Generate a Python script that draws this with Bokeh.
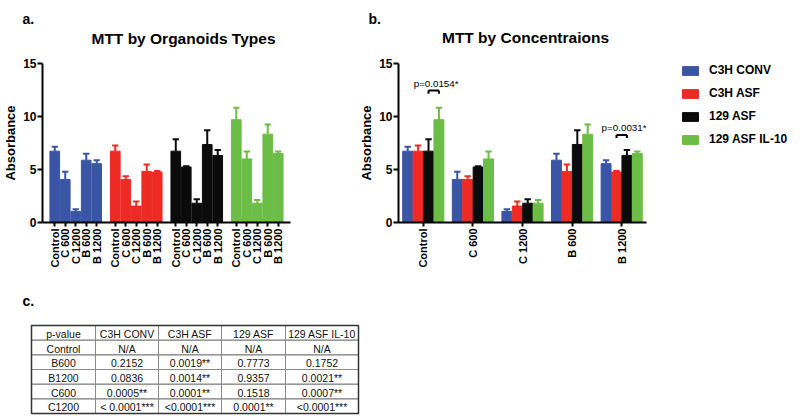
import math
from bokeh.plotting import figure
from bokeh.models import (FactorRange, Range1d, FixedTicker, ColumnDataSource,
                          Legend, LegendItem)
from bokeh.transform import dodge
from bokeh.layouts import row, column
from bokeh.core.properties import value
from bokeh.embed import file_html
from bokeh.resources import INLINE

# ---------------- data ----------------
conditions = ["Control", "C 600", "C 1200", "B 600", "B 1200"]
strains = ["C3H CONV", "C3H ASF", "129 ASF", "129 ASF IL-10"]

c3h_conv_mean = [6.73, 4.06, 1.05, 5.88, 5.55]
c3h_conv_sem = [0.42, 0.73, 0.20, 0.60, 0.33]
c3h_asf_mean = [6.73, 4.06, 1.55, 4.82, 4.76]
c3h_asf_sem = [0.54, 0.30, 0.42, 0.66, 0.09]
asf129_mean = [6.73, 5.24, 1.82, 7.36, 6.33]
asf129_sem = [1.12, 0.06, 0.38, 1.34, 0.52]
il10_mean = [9.70, 6.00, 1.82, 8.33, 6.50]
il10_sem = [1.12, 0.70, 0.30, 0.91, 0.20]

sig_cond = ["Control", "B 1200"]
sig_from = ["129 ASF", "C3H ASF"]
sig_to = ["129 ASF IL-10", "129 ASF"]
sig_y = [12.45, 8.26]
sig_text = ["p=0.0154*", "p=0.0031*"]

panel_letters = ["a.", "b.", "c."]
panel_titles = ["MTT by Organoids Types", "MTT by Concentraions"]

table_header = ["p-value", "C3H CONV", "C3H ASF", "129 ASF", "129 ASF IL-10"]
table_rows = ["Control", "B600", "B1200", "C600", "C1200"]
pv_c3h_conv = ["N/A", "0.2152", "0.0836", "0.0005**", "< 0.0001***"]
pv_c3h_asf = ["N/A", "0.0019**", "0.0014**", "0.0001**", "<0.0001***"]
pv_129_asf = ["N/A", "0.7773", "0.9357", "0.1518", "0.0001**"]
pv_129_il10 = ["N/A", "0.1752", "0.0021**", "0.0007**", "<0.0001***"]

# ---------------- style ----------------
FONT = "Liberation Sans"
colors = ["#3A55A5", "#EE2A24", "#0B0B0B", "#6BBD45"]
means = [c3h_conv_mean, c3h_asf_mean, asf129_mean, il10_mean]
sems = [c3h_conv_sem, c3h_asf_sem, asf129_sem, il10_sem]


def blank(p):
    p.xgrid.visible = False
    p.ygrid.visible = False
    p.outline_line_color = None


def style_axes(p):
    blank(p)
    ya = p.yaxis[0]
    ya.ticker = FixedTicker(ticks=[0, 5, 10, 15])
    ya.axis_label = "Absorbance"
    ya.axis_label_text_font = FONT
    ya.axis_label_text_font_style = "bold"
    ya.axis_label_text_font_size = "13px"
    ya.axis_label_text_color = "black"
    ya.axis_label_standoff = 2
    ya.major_label_text_font = FONT
    ya.major_label_text_font_style = "bold"
    ya.major_label_text_font_size = "12px"
    ya.major_label_text_color = "black"
    ya.major_label_standoff = 1
    ya.axis_line_width = 2
    ya.major_tick_line_width = 2
    ya.major_tick_out = 5
    ya.major_tick_in = 0
    ya.minor_tick_out = 0
    ya.minor_tick_in = 0
    xa = p.xaxis[0]
    xa.axis_line_width = 2
    xa.major_tick_line_width = 2
    xa.major_tick_out = 4
    xa.major_tick_in = 0
    xa.major_label_orientation = math.pi / 2
    xa.major_label_text_font = FONT
    xa.major_label_text_font_style = "bold"
    xa.major_label_text_font_size = "11px"
    xa.major_label_text_color = "black"
    xa.major_label_standoff = 2


# ---------------- header strip (panel letters + titles) ----------------
ph = figure(width=798, height=50, x_range=Range1d(0, 798), y_range=Range1d(50, 0),
            output_backend="svg", toolbar_location=None, min_border=0,
            x_axis_location=None, y_axis_location=None)
blank(ph)
hdr = ColumnDataSource(dict(x=[22, 368], y=[18, 18], t=panel_letters[:2]))
ph.text(x="x", y="y", text="t", source=hdr, text_font=value(FONT), text_font_style="bold",
        text_font_size="14px", text_align="left", text_baseline="alphabetic", text_color="black")
ttl = ColumnDataSource(dict(x=[183, 525], y=[38, 37], t=panel_titles))
ph.text(x="x", y="y", text="t", source=ttl, text_font=value(FONT), text_font_style="bold",
        text_font_size="15.5px", text_align="center", text_baseline="alphabetic",
        text_color="black")

# ---------------- panel a ----------------
factors_a = [(s, c) for s in strains for c in conditions]
top_a = [v for m in means for v in m]
upper_a = [v + e for m, se in zip(means, sems) for v, e in zip(m, se)]
color_a = [c for c in colors for _ in conditions]

pa = figure(width=348, height=235,
            x_range=FactorRange(*factors_a, group_padding=0.77, range_padding=0.67,
                                range_padding_units="absolute"),
            y_range=Range1d(0, 15), output_backend="svg", toolbar_location=None,
            min_border_left=42, min_border_right=58, min_border_top=8, min_border_bottom=63)
src_a = ColumnDataSource(dict(x=factors_a, top=top_a, upper=upper_a, color=color_a))
pa.vbar(x="x", top="top", width=0.92, source=src_a, fill_color="color", line_color="color")
pa.segment(x0="x", y0="top", x1="x", y1="upper", source=src_a, line_color="color", line_width=2)
pa.segment(x0=dodge("x", -0.3, range=pa.x_range), y0="upper",
           x1=dodge("x", 0.3, range=pa.x_range), y1="upper",
           source=src_a, line_color="color", line_width=2)
style_axes(pa)
pa.xaxis[0].group_text_font_size = "0px"
pa.xaxis[0].group_text_color = None
pa.xaxis[0].separator_line_color = None

# ---------------- panel b ----------------
pb = figure(width=332, height=235,
            x_range=FactorRange(*conditions, range_padding=0),
            y_range=Range1d(0, 15), output_backend="svg", toolbar_location=None,
            min_border_left=50, min_border_right=34, min_border_top=8, min_border_bottom=63)
pitch = 0.21
offsets = {s: (i - 1.5) * pitch for i, s in enumerate(strains)}
for i, s in enumerate(strains):
    src = ColumnDataSource(dict(cond=conditions, top=means[i],
                                upper=[v + e for v, e in zip(means[i], sems[i])]))
    xo = dodge("cond", offsets[s], range=pb.x_range)
    pb.vbar(x=xo, top="top", width=0.2, source=src, fill_color=colors[i], line_color=colors[i])
    pb.segment(x0=xo, y0="top", x1=xo, y1="upper", source=src, line_color=colors[i], line_width=2)
    pb.segment(x0=dodge("cond", offsets[s] - 0.065, range=pb.x_range), y0="upper",
               x1=dodge("cond", offsets[s] + 0.065, range=pb.x_range), y1="upper",
               source=src, line_color=colors[i], line_width=2)

for cond, a, b, y, t in zip(sig_cond, sig_from, sig_to, sig_y, sig_text):
    s = ColumnDataSource(dict(cond=[cond], y=[y], y2=[y - 0.3], t=[t]))
    xa_ = dodge("cond", offsets[a], range=pb.x_range)
    xb_ = dodge("cond", offsets[b], range=pb.x_range)
    pb.segment(x0=xa_, y0="y", x1=xb_, y1="y", source=s, line_color="black", line_width=2)
    pb.segment(x0=xa_, y0="y", x1=xa_, y1="y2", source=s, line_color="black", line_width=2)
    pb.segment(x0=xb_, y0="y", x1=xb_, y1="y2", source=s, line_color="black", line_width=2)
    pb.text(x=dodge("cond", offsets[a] - 0.3, range=pb.x_range), y="y", text="t", source=s,
            y_offset=-7, text_font=value(FONT), text_font_size="9.8px", text_align="left",
            text_baseline="alphabetic", text_color="black")
style_axes(pb)

# ---------------- legend ----------------
pl = figure(width=118, height=235, x_range=Range1d(0, 1), y_range=Range1d(0, 1),
            output_backend="svg", toolbar_location=None, min_border=0, min_border_top=13,
            x_axis_location=None, y_axis_location=None)
blank(pl)
items = []
for i, s in enumerate(strains):
    # legend-only renderer: hidden, it only supplies the swatch style
    r = pl.vbar(x=[-1], top=[0], width=0.1, fill_color=colors[i], line_color=colors[i])
    r.visible = False
    items.append(LegendItem(label=s, renderers=[r]))
legend = Legend(items=items, location="top_left", margin=0, padding=0, spacing=9,
                glyph_width=20, glyph_height=11, label_height=14, label_standoff=9,
                label_text_font=FONT, label_text_font_style="bold", label_text_font_size="12px",
                label_text_color="black", border_line_color=None, background_fill_alpha=0)
pl.add_layout(legend)

# ---------------- table c ----------------
pt = figure(width=798, height=133, x_range=Range1d(0, 798), y_range=Range1d(133, 0),
            output_backend="svg", toolbar_location=None, min_border=0,
            x_axis_location=None, y_axis_location=None)
blank(pt)
pt.text(x=[22], y=[15], text=[panel_letters[2]], text_font=value(FONT), text_font_style="bold",
        text_font_size="14px", text_align="left", text_baseline="alphabetic", text_color="black")

table_cols = [[table_header[0]] + table_rows,
              [table_header[1]] + pv_c3h_conv,
              [table_header[2]] + pv_c3h_asf,
              [table_header[3]] + pv_129_asf,
              [table_header[4]] + pv_129_il10]
col_widths = [64, 63, 63, 64, 73]
table_left, table_top, row_h = 31, 40, 14.67
lefts, rights, tops, bottoms, xs, ys, texts = [], [], [], [], [], [], []
x0 = table_left
for ci, col in enumerate(table_cols):
    for ri, txt in enumerate(col):
        lefts.append(x0)
        rights.append(x0 + col_widths[ci])
        tops.append(table_top + ri * row_h)
        bottoms.append(table_top + (ri + 1) * row_h)
        xs.append(x0 + col_widths[ci] / 2)
        ys.append(table_top + (ri + 0.5) * row_h + 1)
        texts.append(txt)
    x0 += col_widths[ci]
cells = ColumnDataSource(dict(left=lefts, right=rights, top=tops, bottom=bottoms,
                              x=xs, y=ys, text=texts))
pt.quad(left="left", right="right", top="top", bottom="bottom", source=cells,
        fill_color=None, line_color="#8a8a8a", line_width=1)
pt.quad(left=[table_left], right=[x0], top=[table_top],
        bottom=[table_top + len(table_cols[0]) * row_h],
        fill_color=None, line_color="#333333", line_width=1.5)
pt.text(x="x", y="y", text="text", source=cells, text_font=value(FONT), text_font_size="10.5px",
        text_align="center", text_baseline="middle", text_color="#111111")

layout = column(ph, row(pa, pb, pl, spacing=0), pt, spacing=0)
open("out.html", "w").write(file_html(layout, INLINE))
